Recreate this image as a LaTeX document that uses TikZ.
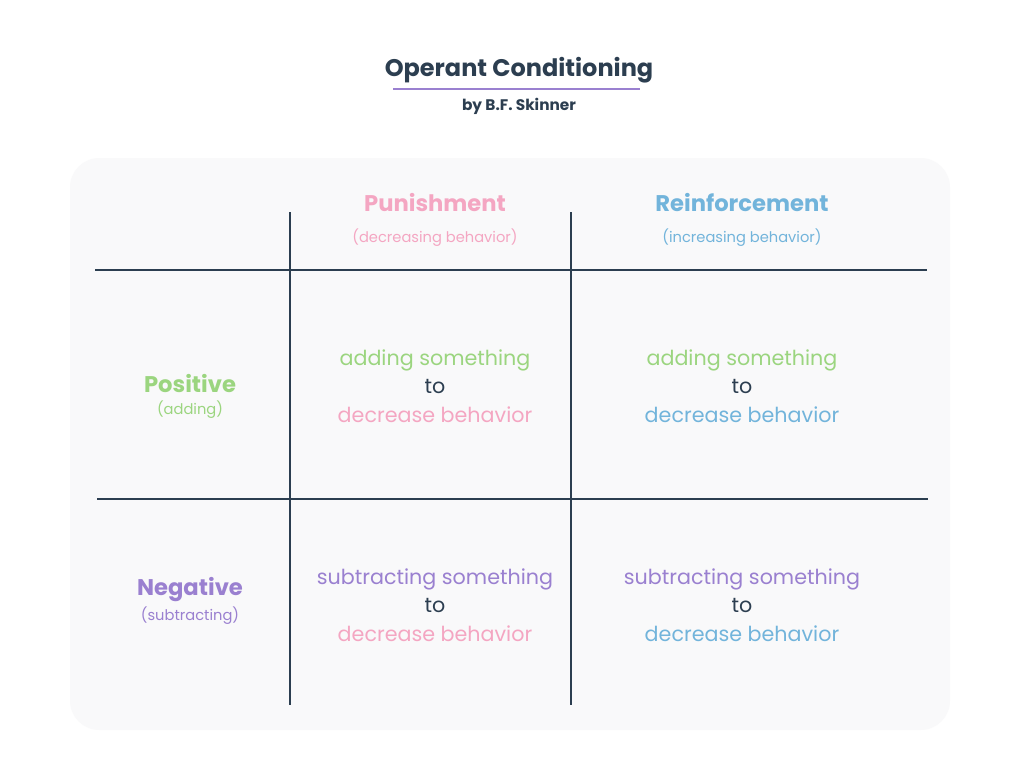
\documentclass[tikz,border=0pt]{standalone}
\usepackage{fontspec}
\setmainfont{Poppins}
\definecolor{navy}{HTML}{2C3E50}
\definecolor{pnk}{HTML}{F4A6C2}
\definecolor{blu}{HTML}{72B4DB}
\definecolor{grn}{HTML}{9BD57F}
\definecolor{prp}{HTML}{9A80D0}
\definecolor{bgc}{HTML}{F9F9FA}
\begin{document}
\begin{tikzpicture}[x=0.75pt,y=-0.75pt,
  grid/.style={navy,line width=1.6pt},
  cell/.style={align=center,font=\fontsize{15.5}{21.5}\selectfont},
  head/.style={align=center,font=\fontsize{17}{20}\selectfont\bfseries},
  sub/.style={font=\fontsize{11}{13}\selectfont}]
\useasboundingbox (0,0) rectangle (1024,776);
\fill[white] (0,0) rectangle (1024,776);
\fill[bgc,rounded corners=22pt] (70,158) rectangle (950,730);
\node[navy,font=\fontsize{18}{21}\selectfont\bfseries] (title) at (519,70) {Operant Conditioning};
\draw[prp,line width=1.8pt] (393,89) -- (640,89);
\node[navy,font=\fontsize{11.5}{13}\selectfont\bfseries] (by) at (519,106) {by B.F. Skinner};
\draw[grid] (290,212) -- (290,705);
\draw[grid] (571,212) -- (571,705);
\draw[grid] (95,270) -- (927,270);
\draw[grid] (97,499) -- (928,499);
\node[head,pnk] (pun) at (435,203) {Punishment};
\node[sub,pnk] (puns) at (435,238) {(decreasing behavior)};
\node[head,blu] (rei) at (742,203) {Reinforcement};
\node[sub,blu] (reis) at (742,238) {(increasing behavior)};
\node[head,grn] (pos) at (190,384) {Positive};
\node[sub,grn] (poss) at (190,410) {(adding)};
\node[head,prp] (neg) at (190,590) {Negative};
\node[sub,prp] (negs) at (190,616) {(subtracting)};
\node[cell] (c11) at (435,386) {\textcolor{grn}{adding something}\\\textcolor{navy}{to}\\\textcolor{pnk}{decrease behavior}};
\node[cell] (c12) at (742,386) {\textcolor{grn}{adding something}\\\textcolor{navy}{to}\\\textcolor{blu}{decrease behavior}};
\node[cell] (c21) at (435,605) {\textcolor{prp}{subtracting something}\\\textcolor{navy}{to}\\\textcolor{pnk}{decrease behavior}};
\node[cell] (c22) at (742,605) {\textcolor{prp}{subtracting something}\\\textcolor{navy}{to}\\\textcolor{blu}{decrease behavior}};
\end{tikzpicture}
\end{document}
